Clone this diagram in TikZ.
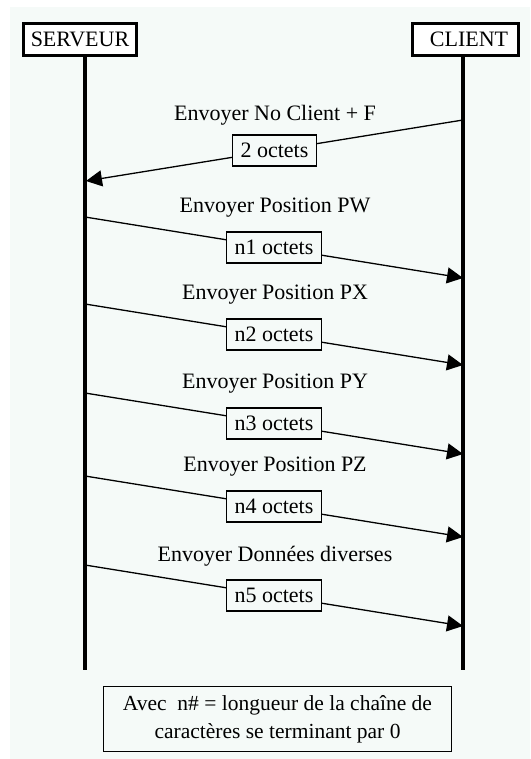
\documentclass[tikz,border=0pt]{standalone}
\usepackage{fontspec}
\setmainfont{Liberation Serif}
\usetikzlibrary{arrows.meta}
\definecolor{paperbg}{HTML}{F5FAF8}

\begin{document}
\begin{tikzpicture}[x=1pt, y=-1pt, font=\fontsize{22}{26}\selectfont,
  hdr/.style={draw, line width=3pt, fill=white, inner sep=0pt,
    minimum height=32pt},
  lifeline/.style={line width=3.5pt},
  msg/.style={line width=1.3pt, -{Triangle[length=16pt, width=16pt]}},
  sizebox/.style={draw, line width=1.3pt, fill=paperbg, inner xsep=8pt,
    inner ysep=0pt, minimum height=31pt},
  msglab/.style={inner sep=0pt}]

%% ------------------------------------------------------------------
%% page and background (the tint stops short of the top and left edge)
%% ------------------------------------------------------------------
\useasboundingbox (0,0) rectangle (530,759);
\fill[paperbg] (10,7) rectangle (530,759);

%% ------------------------------------------------------------------
%% the two actors and their lifelines
%% ------------------------------------------------------------------
\node[hdr, minimum width=113pt] (srv) at (80,39.5) {SERVEUR};
\node[hdr, minimum width=106pt] (cli) at (465.5,39.5) {\hspace{7pt}CLIENT};

\coordinate (srvend) at (85,670);
\coordinate (cliend) at (463,670);
\draw[lifeline] (srv.south -| srvend) -- (srvend);
\draw[lifeline] (cli.south -| cliend) -- (cliend);

%% ------------------------------------------------------------------
%% client -> serveur: client number and flag
%% ------------------------------------------------------------------
\coordinate (c0) at (463,120);
\coordinate (s0) at (86,181);
\draw[msg] (c0) -- node[sizebox, pos=0.5] (b0) {2 octets} (s0);
\node[msglab] (l0) at (275,115) {Envoyer No Client + F};

%% ------------------------------------------------------------------
%% serveur -> client: positions and other data, each drops 61 px
%% ------------------------------------------------------------------
\foreach \i/\y/\txt in {1/217/Position PW, 2/304/Position PX,
    3/393/Position PY, 4/476/Position PZ, 5/565/Données diverses}{
  \coordinate (s\i) at (85,\y);
  \coordinate (c\i) at (463,\y+61);
  \draw[msg] (s\i) -- node[sizebox, pos=0.5] (b\i) {n\i\ octets} (c\i);
  \node[msglab] (l\i) at (275,\y-9) {Envoyer \txt};
}

%% ------------------------------------------------------------------
%% note under the diagram
%% ------------------------------------------------------------------
\node[draw, line width=1.3pt, fill=paperbg, align=center,
  minimum width=348pt, minimum height=65pt, inner sep=0pt,
  font=\fontsize{21.5}{28}\selectfont] (note) at (277.5,719)
  {Avec\ \ n\# = longueur de la chaîne de\\caractères se terminant par 0};

\end{tikzpicture}
\end{document}
